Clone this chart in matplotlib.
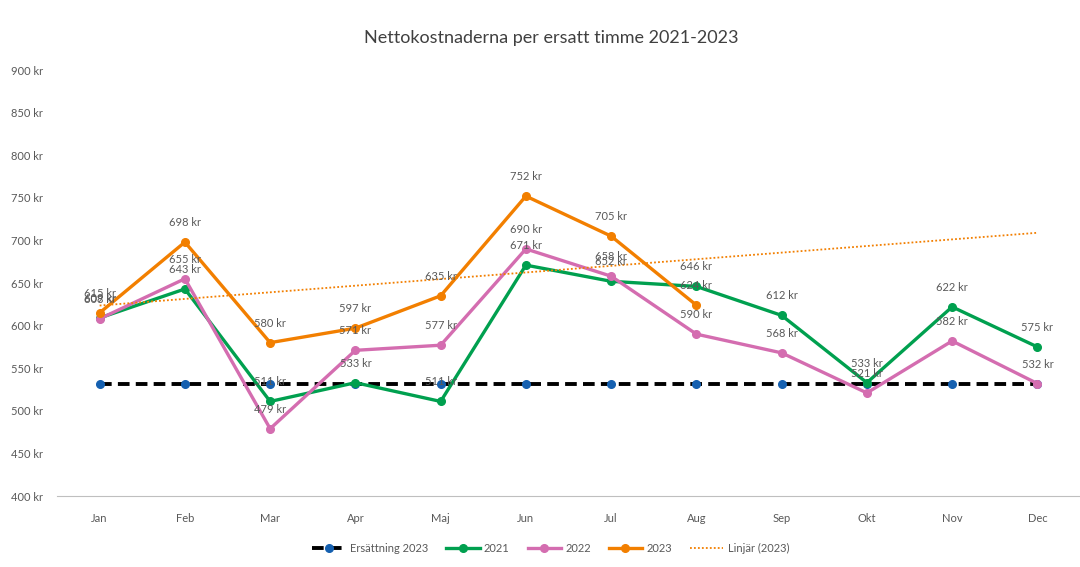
import numpy as np
import matplotlib.pyplot as plt

plt.rcParams['font.family'] = ['Lato', 'DejaVu Sans']

# Data
months = ["Jan", "Feb", "Mar", "Apr", "Maj", "Jun", "Jul", "Aug", "Sep", "Okt", "Nov", "Dec"]
ersattning_2023 = [532] * 12
cost_2021 = [609, 643, 511, 533, 511, 671, 652, 646, 612, 533, 622, 575]
cost_2022 = [608, 655, 479, 571, 577, 690, 658, 590, 568, 521, 582, 532]
cost_2023 = [615, 698, 580, 597, 635, 752, 705, 624]

c_green = "#00A04F"
c_pink = "#D46DB0"
c_orange = "#F27F00"
c_blue = "#1560B0"
c_text = "#595959"

fig = plt.figure(figsize=(10.8, 5.67), dpi=100)
ax = fig.add_axes([0.0528, 0.1252, 0.9472, 0.7513])

x = np.arange(len(months))

ax.plot(x, ersattning_2023, color="black", lw=2.8, ls=(0, (3, 1.6)),
        marker="o", ms=5.5, mfc=c_blue, mec=c_blue, zorder=2, label="Ersättning 2023")
ax.plot(x, cost_2021, color=c_green, lw=2.4, marker="o", ms=5.5, zorder=3, label="2021")
ax.plot(x, cost_2022, color=c_pink, lw=2.4, marker="o", ms=5.5, zorder=4, label="2022")
x23 = np.arange(len(cost_2023))
ax.plot(x23, cost_2023, color=c_orange, lw=2.4, marker="o", ms=5.5, zorder=5, label="2023")

# linear trendline for 2023, extended over the full year
k, m = np.polyfit(x23, cost_2023, 1)
ax.plot(x, k * x + m, color=c_orange, lw=1.3, ls=(0, (1, 1.2)), zorder=6, label="Linjär (2023)")

# data labels above points
for series, xs in [(cost_2021, x), (cost_2022, x), (cost_2023, x23)]:
    for xi, v in zip(xs, series):
        ax.annotate(f"{v} kr", (xi, v), xytext=(0, 14), textcoords="offset points",
                    ha="center", va="center", fontsize=8, color=c_text, zorder=7)

ax.set_xlim(-0.5, 11.5)
ax.set_ylim(400, 900)
ax.set_xticks(x)
ax.set_xticklabels(months)
ax.set_yticks(np.arange(400, 901, 50))
ax.set_yticklabels([f"{v} kr" for v in range(400, 901, 50)])
ax.tick_params(axis="both", length=0, labelsize=8, colors=c_text)
ax.tick_params(axis="x", pad=12)
ax.tick_params(axis="y", pad=10)
for s in ["top", "right", "left"]:
    ax.spines[s].set_visible(False)
ax.spines["bottom"].set_color("#BFBFBF")

fig.text(0.51, 0.933, "Nettokostnaderna per ersatt timme 2021-2023", ha="center", va="center",
         fontsize=13, color="#404040")

fig.legend(loc="center", bbox_to_anchor=(0.51, 0.032), ncol=5, frameon=False,
           fontsize=8, labelcolor=c_text, handlelength=3.0, columnspacing=1.6, handletextpad=0.4)

fig.savefig("out.png", dpi=100)
